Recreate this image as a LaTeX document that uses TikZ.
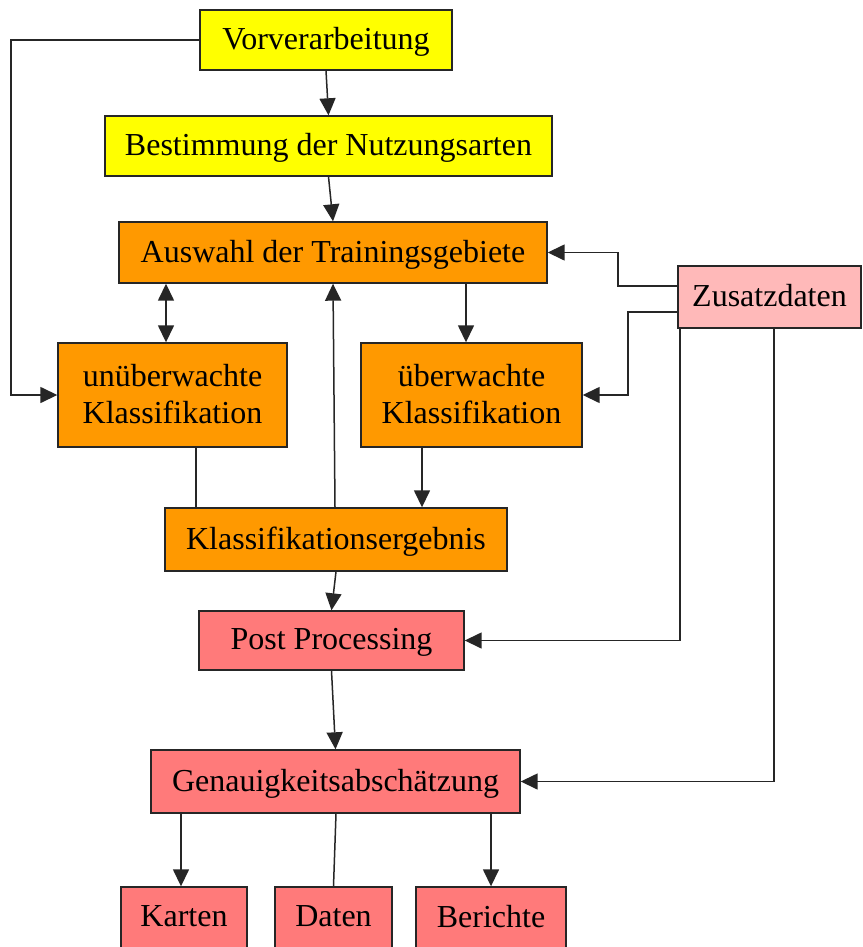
\documentclass[tikz,border=0pt]{standalone}
\usepackage{fontspec}
\setmainfont{Liberation Serif}
\usetikzlibrary{arrows.meta}

\definecolor{gelb}{RGB}{255,255,0}
\definecolor{orangeb}{RGB}{255,153,0}
\definecolor{rosa}{RGB}{255,185,185}
\definecolor{lachs}{RGB}{255,122,122}

\begin{document}
\begin{tikzpicture}[x=1pt,y=-1pt,
	box/.style={draw=black!85,line width=1.4pt,inner sep=0pt,text depth=3pt,align=center,font=\fontsize{32}{37}\selectfont},
	link/.style={draw=black!85,line width=1.5pt},
	arr/.style={link,-{Triangle[length=17pt,width=16pt]}},
	arrboth/.style={link,{Triangle[length=17pt,width=16pt]}-{Triangle[length=17pt,width=16pt]}}]

	\useasboundingbox[fill=white] (0,0) rectangle (862,947);

	\node[box,fill=gelb,minimum width=252,minimum height=60] (vor) at (326,40){Vorverarbeitung};
	\node[box,fill=gelb,minimum width=447,minimum height=60] (best) at (328.5,146){Bestimmung der Nutzungsarten};
	\node[box,fill=orangeb,minimum width=428,minimum height=61] (ausw) at (333,252.5){Auswahl der Trainingsgebiete};
	\node[box,fill=rosa,minimum width=183,minimum height=62] (zus) at (769.5,297){Zusatzdaten};

	\node[box,fill=orangeb,minimum width=229,minimum height=104] (unueb) at (172.5,395){unüberwachte\\Klassifikation};
	\node[box,fill=orangeb,minimum width=221,minimum height=104] (ueb) at (471.5,395){überwachte\\Klassifikation};

	\node[box,fill=orangeb,minimum width=342,minimum height=63] (kerg) at (336,539.5){Klassifikationsergebnis};
	\node[box,fill=lachs,minimum width=265,minimum height=59] (post) at (331.5,640.5){Post Processing};
	\node[box,fill=lachs,minimum width=369,minimum height=63] (gen) at (335.5,781.5){Genauigkeitsabschätzung};

	\node[box,fill=lachs,minimum width=126,minimum height=62] (karten) at (184,918){Karten};
	\node[box,fill=lachs,minimum width=117,minimum height=62] (daten) at (333.5,918){Daten};
	\node[box,fill=lachs,minimum width=150,minimum height=62] (berichte) at (491,918){Berichte};

	\draw[arr] (vor.south) -- (best.north);
	\draw[arr] (best.south) -- (ausw.north);
	\draw[arr] (vor.west) -- (11,40) |- (unueb.west);

	\draw[arrboth] (unueb.north -| 166,0) -- (ausw.south -| 166,0);
	\draw[arr] (ausw.south -| 466,0) -- (ueb.north -| 466,0);
	\draw[arr] (kerg.north -| 335,0) -- (ausw.south -| 333,0);
	\draw[link] (unueb.south -| 196,0) -- (kerg.north -| 196,0);
	\draw[arr] (ueb.south -| 422,0) -- (kerg.north -| 422,0);

	\draw[arr] (zus.west |- 0,286) -- (618,286) |- (ausw.east);
	\draw[arr] (zus.west |- 0,312) -- (628,312) |- (ueb.east);
	\draw[arr] (zus.south -| 680,0) |- (post.east);
	\draw[arr] (zus.south -| 774,0) |- (gen.east);

	\draw[arr] (kerg.south) -- (post.north);
	\draw[arr] (post.south) -- (gen.north);

	\draw[arr] (gen.south -| 181,0) -- (karten.north -| 181,0);
	\draw[link] (gen.south -| 336,0) -- (daten.north);
	\draw[arr] (gen.south -| berichte.north) -- (berichte.north);

\end{tikzpicture}
\end{document}
